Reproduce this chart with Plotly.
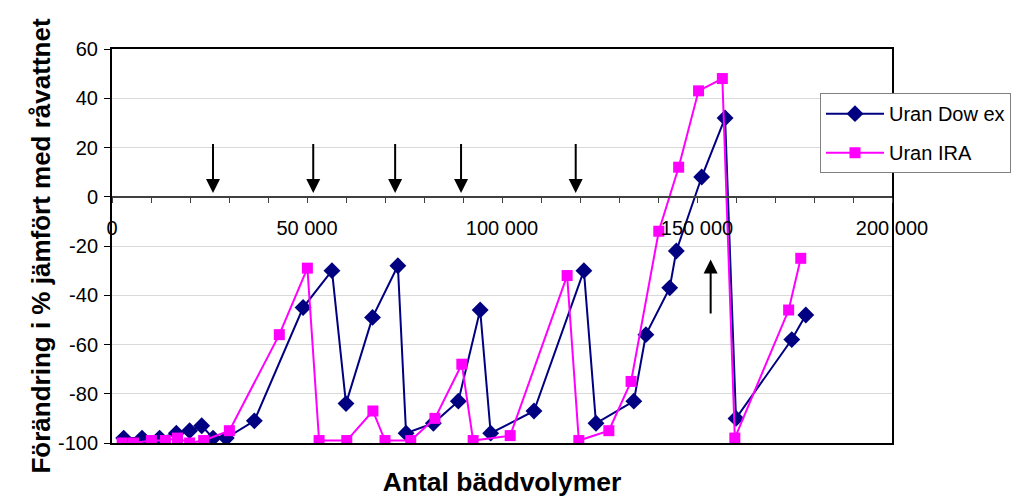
import plotly.graph_objects as go

# ---- data ----
dowex_x = [3000, 7700, 12200, 16500, 19900, 23000, 25900, 29300, 36500, 49000,
           56400, 60000, 66800, 73300, 75400, 82400, 88800, 94400, 97100, 108200,
           121000, 124100, 133800, 136900, 143000, 144700, 151200, 157200, 160000,
           174300, 177900]
dowex_y = [-98, -98, -98, -96, -95, -93, -98, -98, -91, -45,
           -30, -84, -49, -28, -96, -92, -83, -46, -96, -87,
           -30, -92, -83, -56, -37, -22, 8, 32, -90,
           -58, -48]

ira_x = [2600, 5500, 10100, 13700, 16800, 19900, 23500, 30100, 42900, 50100,
         53100, 60200, 66900, 70000, 76600, 82800, 89700, 92600, 102100, 116700,
         119700, 127400, 133100, 140200, 145300, 150400, 156500, 159700, 173500,
         176600]
ira_y = [-100, -100, -99, -99, -98, -100, -99, -95, -56, -29,
         -99, -99, -87, -99, -99, -90, -68, -99, -97, -32,
         -99, -95, -75, -14, 12, 43, 48, -98, -46,
         -25]

down_arrow_x = [25900, 51600, 72600, 89500, 118900]
down_arrow_from, down_arrow_to = 22, 1.5
up_arrow_x = [153500]
up_arrow_from, up_arrow_to = -48, -25.5

x_tickvals = [0, 50000, 100000, 150000, 200000]
x_ticktext = ["0", "50 000", "100 000", "150 000", "200 000"]
y_tickvals = [-100, -80, -60, -40, -20, 0, 20, 40, 60]
y_ticktext = ["-100", "-80", "-60", "-40", "-20", "0", "20", "40", "60"]

series_names = ["Uran Dow ex", "Uran IRA"]
x_title = "Antal bäddvolymer"
y_title = "Förändring i % jämfört med råvattnet"

FONT = "Liberation Sans, Arial, sans-serif"
X_RANGE = [0, 200000]
Y_RANGE = [-100, 60]

fig = go.Figure()
fig.add_trace(go.Scatter(
    x=dowex_x, y=dowex_y, name=series_names[0], mode="lines+markers",
    line=dict(color="#000080", width=2),
    marker=dict(symbol="diamond", size=13, color="#000080"),
    legendgroup="a",
))
fig.add_trace(go.Scatter(
    x=ira_x, y=ira_y, name=series_names[1], mode="lines+markers",
    line=dict(color="#FF00FF", width=2),
    marker=dict(symbol="square", size=11, color="#FF00FF"),
    legendgroup="b",
))
# invisible trace so the crossing x axis is drawn
fig.add_trace(go.Scatter(x=[None], y=[None], xaxis="x2", yaxis="y",
                         showlegend=False, hoverinfo="skip"))

annotations = []
for xv in down_arrow_x:
    annotations.append(dict(x=xv, y=down_arrow_to, ax=xv, ay=down_arrow_from,
                            xref="x", yref="y", axref="x", ayref="y",
                            text="", showarrow=True, arrowhead=2, arrowsize=1.4,
                            arrowwidth=2, arrowcolor="black", standoff=0))
for xv in up_arrow_x:
    annotations.append(dict(x=xv, y=up_arrow_to, ax=xv, ay=up_arrow_from,
                            xref="x", yref="y", axref="x", ayref="y",
                            text="", showarrow=True, arrowhead=2, arrowsize=1.4,
                            arrowwidth=2, arrowcolor="black", standoff=0))

fig.update_layout(
    width=1013, height=497,
    margin=dict(l=112, r=121, t=49, b=54, autoexpand=False),
    paper_bgcolor="white", plot_bgcolor="white",
    font=dict(family=FONT, size=20, color="black"),
    showlegend=True,
    legend=dict(x=0.9077, y=0.888, xanchor="left", yanchor="top",
                bordercolor="#808080", borderwidth=1, bgcolor="white",
                font=dict(family=FONT, size=20, color="black"),
                itemwidth=58, tracegroupgap=10, traceorder="grouped"),
    xaxis=dict(range=X_RANGE, showgrid=False, zeroline=False, automargin=False,
               showline=True, linecolor="black", linewidth=2, mirror=True,
               showticklabels=False, ticks="",
               title=dict(text="<b>" + x_title + "</b>", standoff=33,
                          font=dict(family=FONT, size=26.5))),
    xaxis2=dict(range=X_RANGE, overlaying="x", anchor="free", automargin=False,
                position=(0 - Y_RANGE[0]) / (Y_RANGE[1] - Y_RANGE[0]),
                side="bottom", showgrid=False, zeroline=False,
                showline=True, linecolor="#404040", linewidth=2,
                ticks="outside", ticklen=5, tickwidth=1, tickcolor="#404040",
                ticklabelstandoff=8,
                tickvals=x_tickvals, ticktext=x_ticktext,
                minor=dict(dtick=10000, tick0=0, ticks="outside", ticklen=5,
                           tickwidth=1, tickcolor="#404040"),
                tickfont=dict(family=FONT, size=20, color="black")),
    yaxis=dict(range=Y_RANGE, showgrid=True, gridcolor="#d9d9d9", gridwidth=1,
               automargin=False,
               zeroline=False, showline=True, linecolor="black", linewidth=2,
               mirror=True, ticks="outside", ticklen=6, tickcolor="black",
               ticklabelstandoff=2,
               tickvals=y_tickvals, ticktext=y_ticktext,
               tickfont=dict(family=FONT, size=20, color="black"),
               title=dict(text="<b>" + y_title + "</b>", standoff=0,
                          font=dict(family=FONT, size=26))),
    annotations=annotations,
)

fig.write_html("out.html", config={"displayModeBar": False},
               post_script="document.body.style.margin='0px';")
